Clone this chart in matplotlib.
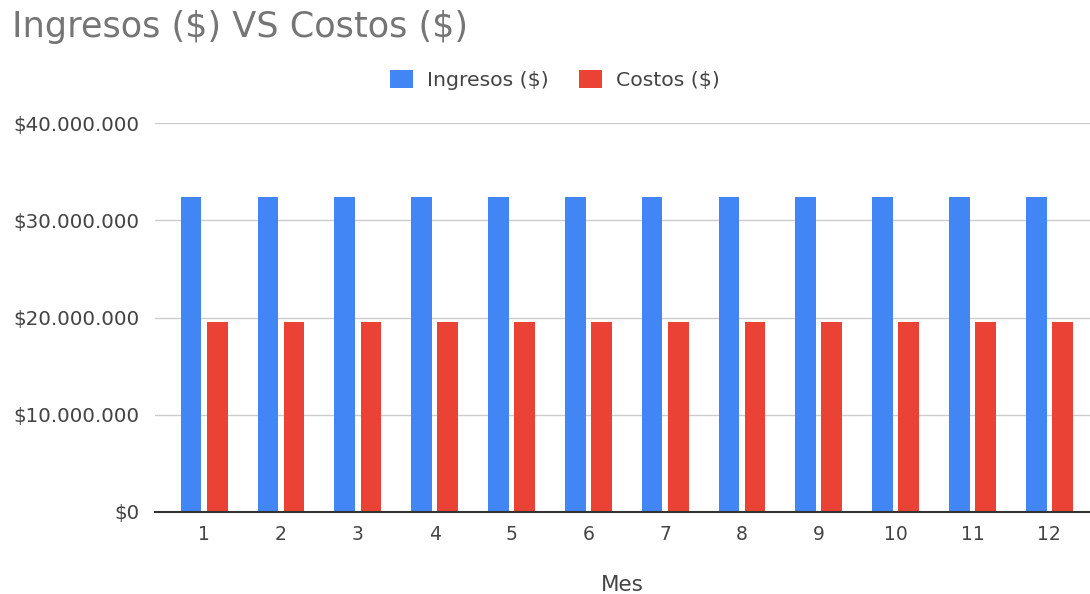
import matplotlib
matplotlib.use("Agg")
import matplotlib.pyplot as plt
from matplotlib.patches import Patch
from matplotlib.ticker import FuncFormatter, MultipleLocator
import numpy as np

plt.rcParams["font.family"] = ["DejaVu Sans"]
plt.rcParams["text.parse_math"] = False

# Monthly revenue vs. cost
meses = [1, 2, 3, 4, 5, 6, 7, 8, 9, 10, 11, 12]
ingresos = [32_400_000] * 12
costos = [19_500_000] * 12
series_labels = ["Ingresos ($)", "Costos ($)"]
titulo = "Ingresos ($) VS Costos ($)"
eje_x = "Mes"

AZUL = "#4285F4"
ROJO = "#EA4335"
TEXTO = "#444444"

W, H = 1090, 594
fig = plt.figure(figsize=(W / 100, H / 100), dpi=100)
ax = fig.add_axes([155 / W, 1 - 512 / H, (1090 - 155) / W, (512 - 123) / H])

x = np.array(meses, dtype=float)
ancho = 0.27
desfase = 0.17
ax.bar(x - desfase, ingresos, width=ancho, color=AZUL, zorder=3)
ax.bar(x + desfase, costos, width=ancho, color=ROJO, zorder=3)

ax.set_xlim(0.36, 12.53)
ax.set_ylim(0, 40_000_000)
ax.yaxis.set_major_locator(MultipleLocator(10_000_000))
ax.yaxis.set_major_formatter(
    FuncFormatter(lambda v, _: "$" + f"{int(round(v)):,}".replace(",", "."))
)
ax.set_xticks(meses)
ax.set_xticklabels([str(m) for m in meses])

ax.grid(axis="y", color="#cccccc", linewidth=1.0, zorder=0)
ax.grid(axis="x", visible=False)
for s in ("top", "right", "left"):
    ax.spines[s].set_visible(False)
ax.spines["bottom"].set_color("#333333")
ax.spines["bottom"].set_linewidth(1.5)
ax.spines["bottom"].set_zorder(4)

ax.tick_params(axis="y", length=0, pad=11, labelsize=14.3, labelcolor=TEXTO)
ax.tick_params(axis="x", length=0, pad=9, labelsize=13.5, labelcolor=TEXTO)

ax.set_xlabel(eje_x, fontsize=15.5, color=TEXTO, labelpad=23)

fig.text(12 / W, 1 - 37 / H, titulo, fontsize=25.3, color="#757575",
         ha="left", va="baseline")

handles = [Patch(facecolor=AZUL, edgecolor="none"),
           Patch(facecolor=ROJO, edgecolor="none")]
fig.legend(handles, series_labels, loc="center",
           bbox_to_anchor=(555 / W, 1 - 80 / H), ncol=2, frameon=False,
           fontsize=14.7, labelcolor=TEXTO, handlelength=1.1,
           handleheight=1.0, handletextpad=0.7, columnspacing=1.5,
           borderpad=0)

fig.savefig("out.png", dpi=100, facecolor="white")
